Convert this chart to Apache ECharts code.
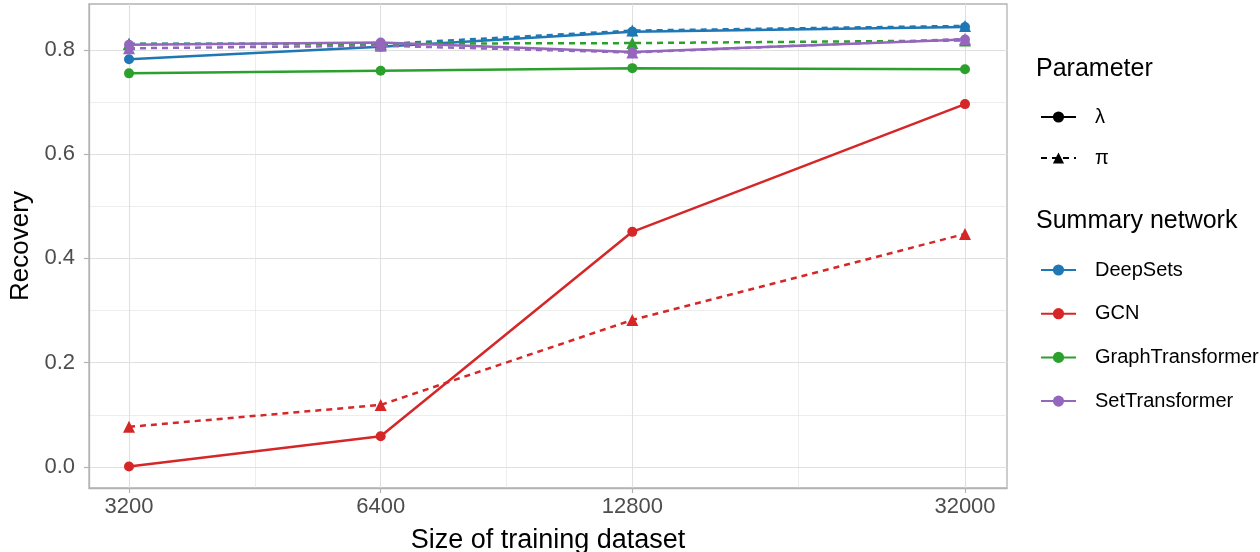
<!DOCTYPE html>
<html>
<head>
<meta charset="utf-8">
<script src="https://cdn.jsdelivr.net/npm/echarts@6/dist/echarts.min.js"></script>
<style>
html, body { margin: 0; padding: 0; background: #fff; }
#chart { width: 1260px; height: 552px; }
</style>
</head>
<body>
<div id="chart"></div>
<script>
var sizes = [3200, 6400, 12800, 32000];
var minorSizes = [4525, 9051, 20239];
var yTicks = [0, 0.2, 0.4, 0.6, 0.8];
var yMinorTicks = [0.1, 0.3, 0.5, 0.7];

var networks = ['DeepSets', 'GCN', 'GraphTransformer', 'SetTransformer'];
var netColors = ['#1f77b4', '#d62728', '#2ca02c', '#9467bd'];

// recovery per network, lambda then pi
var deepSetsLambda = [0.782, 0.806, 0.835, 0.844];
var deepSetsPi = [0.812, 0.811, 0.837, 0.846];
var gcnLambda = [0.001, 0.059, 0.451, 0.696];
var gcnPi = [0.077, 0.119, 0.282, 0.447];
var graphTransLambda = [0.755, 0.760, 0.765, 0.763];
var graphTransPi = [0.811, 0.812, 0.813, 0.818];
var setTransLambda = [0.810, 0.814, 0.796, 0.820];
var setTransPi = [0.803, 0.808, 0.795, 0.821];

var lambdaData = [deepSetsLambda, gcnLambda, graphTransLambda, setTransLambda];
var piData = [deepSetsPi, gcnPi, graphTransPi, setTransPi];

var font = 'Liberation Sans, Arial, sans-serif';
var gridColor = '#e0e0e0';
var borderColor = '#b3b3b3';

function lg(v) { return Math.log10(v); }
function pairs(vals) {
    return vals.map(function (v, i) { return [lg(sizes[i]), v]; });
}

var xMin = lg(3200) - 40 / 836;
var xMax = lg(32000) + 42 / 836;

var series = [];
networks.forEach(function (name, k) {
    series.push({
        name: name, type: 'line', xAxisIndex: 0, yAxisIndex: 0,
        data: pairs(lambdaData[k]), color: netColors[k],
        symbol: 'circle', symbolSize: 10,
        lineStyle: { width: 2.5, type: 'solid' },
        emphasis: { disabled: true }, z: 3 + k
    });
    series.push({
        name: name, type: 'line', xAxisIndex: 0, yAxisIndex: 0,
        data: pairs(piData[k]), color: netColors[k],
        symbol: 'triangle', symbolSize: 12,
        lineStyle: { width: 2.5, type: [6, 5] },
        emphasis: { disabled: true }, z: 3 + k
    });
});
// legend-only series for the parameter key
series.push({ name: 'λ', type: 'line', data: [], color: '#000', symbol: 'circle',
    lineStyle: { width: 2.5, type: 'solid' } });
series.push({ name: 'π', type: 'line', data: [], color: '#000', symbol: 'triangle',
    lineStyle: { width: 2.5, type: [6, 5] } });

var myChart = echarts.init(document.getElementById('chart'));
myChart.setOption({
    animation: false,
    grid: {
        left: 89, right: 253, top: 4, bottom: 64,
        show: true, borderColor: borderColor, borderWidth: 1.3,
        backgroundColor: 'transparent', outerBoundsMode: 'none'
    },
    xAxis: [{
        type: 'value', min: xMin, max: xMax,
        name: 'Size of training dataset', nameLocation: 'middle', nameGap: 39,
        nameTextStyle: { fontSize: 27, color: '#000', fontFamily: font },
        axisLine: { show: true, onZero: false, lineStyle: { color: borderColor, width: 1.3 } },
        axisTick: { show: true, length: 5, customValues: sizes.map(lg),
            lineStyle: { color: borderColor, width: 1.2 } },
        axisLabel: { customValues: sizes.map(lg), margin: 8, fontSize: 22, color: '#4d4d4d',
            fontFamily: font,
            formatter: function (v) { return String(Math.round(Math.pow(10, v))); } },
        splitLine: { show: true, lineStyle: { color: gridColor, width: 1.1 } }
    }, {
        type: 'value', min: xMin, max: xMax, position: 'bottom',
        axisLine: { show: false, onZero: false }, axisLabel: { show: false },
        axisTick: { show: false, customValues: minorSizes.map(lg) },
        splitLine: { show: true, lineStyle: { color: gridColor, width: 0.6 } }
    }],
    yAxis: [{
        type: 'value', min: -0.0403, max: 0.888,
        name: 'Recovery', nameLocation: 'middle', nameGap: 55, nameRotate: 90,
        nameTextStyle: { fontSize: 26, color: '#000', fontFamily: font },
        axisLine: { show: true, onZero: false, lineStyle: { color: borderColor, width: 1.3 } },
        axisTick: { show: true, length: 5, customValues: yTicks,
            lineStyle: { color: borderColor, width: 1.2 } },
        axisLabel: { customValues: yTicks, margin: 14, fontSize: 22, color: '#4d4d4d',
            fontFamily: font,
            formatter: function (v) { return v.toFixed(1); } },
        splitLine: { show: true, lineStyle: { color: gridColor, width: 1.1 } }
    }, {
        type: 'value', min: -0.0403, max: 0.888, position: 'left',
        axisLine: { show: false, onZero: false }, axisLabel: { show: false },
        axisTick: { show: false, customValues: yMinorTicks },
        splitLine: { show: true, lineStyle: { color: gridColor, width: 0.6 } }
    }],
    legend: [{
        data: ['λ', 'π'], orient: 'vertical', left: 1040, top: 107, padding: 0,
        itemWidth: 35, itemHeight: 14, itemGap: 21,
        textStyle: { fontSize: 20, lineHeight: 20, color: '#000', fontFamily: font,
            padding: [0, 0, 0, 14] },
        selectedMode: false
    }, {
        data: networks, orient: 'vertical', left: 1040, top: 260, padding: 0,
        itemWidth: 35, itemHeight: 14, itemGap: 23.7,
        textStyle: { fontSize: 20, lineHeight: 20, color: '#000', fontFamily: font,
            padding: [0, 0, 0, 14] }
    }],
    graphic: [{
        type: 'text', left: 1036, top: 57,
        style: { text: 'Parameter', fontSize: 25, fill: '#000', fontFamily: font }
    }, {
        type: 'text', left: 1036, top: 209,
        style: { text: 'Summary network', fontSize: 25, fill: '#000', fontFamily: font }
    }],
    series: series
});
</script>
</body>
</html>
